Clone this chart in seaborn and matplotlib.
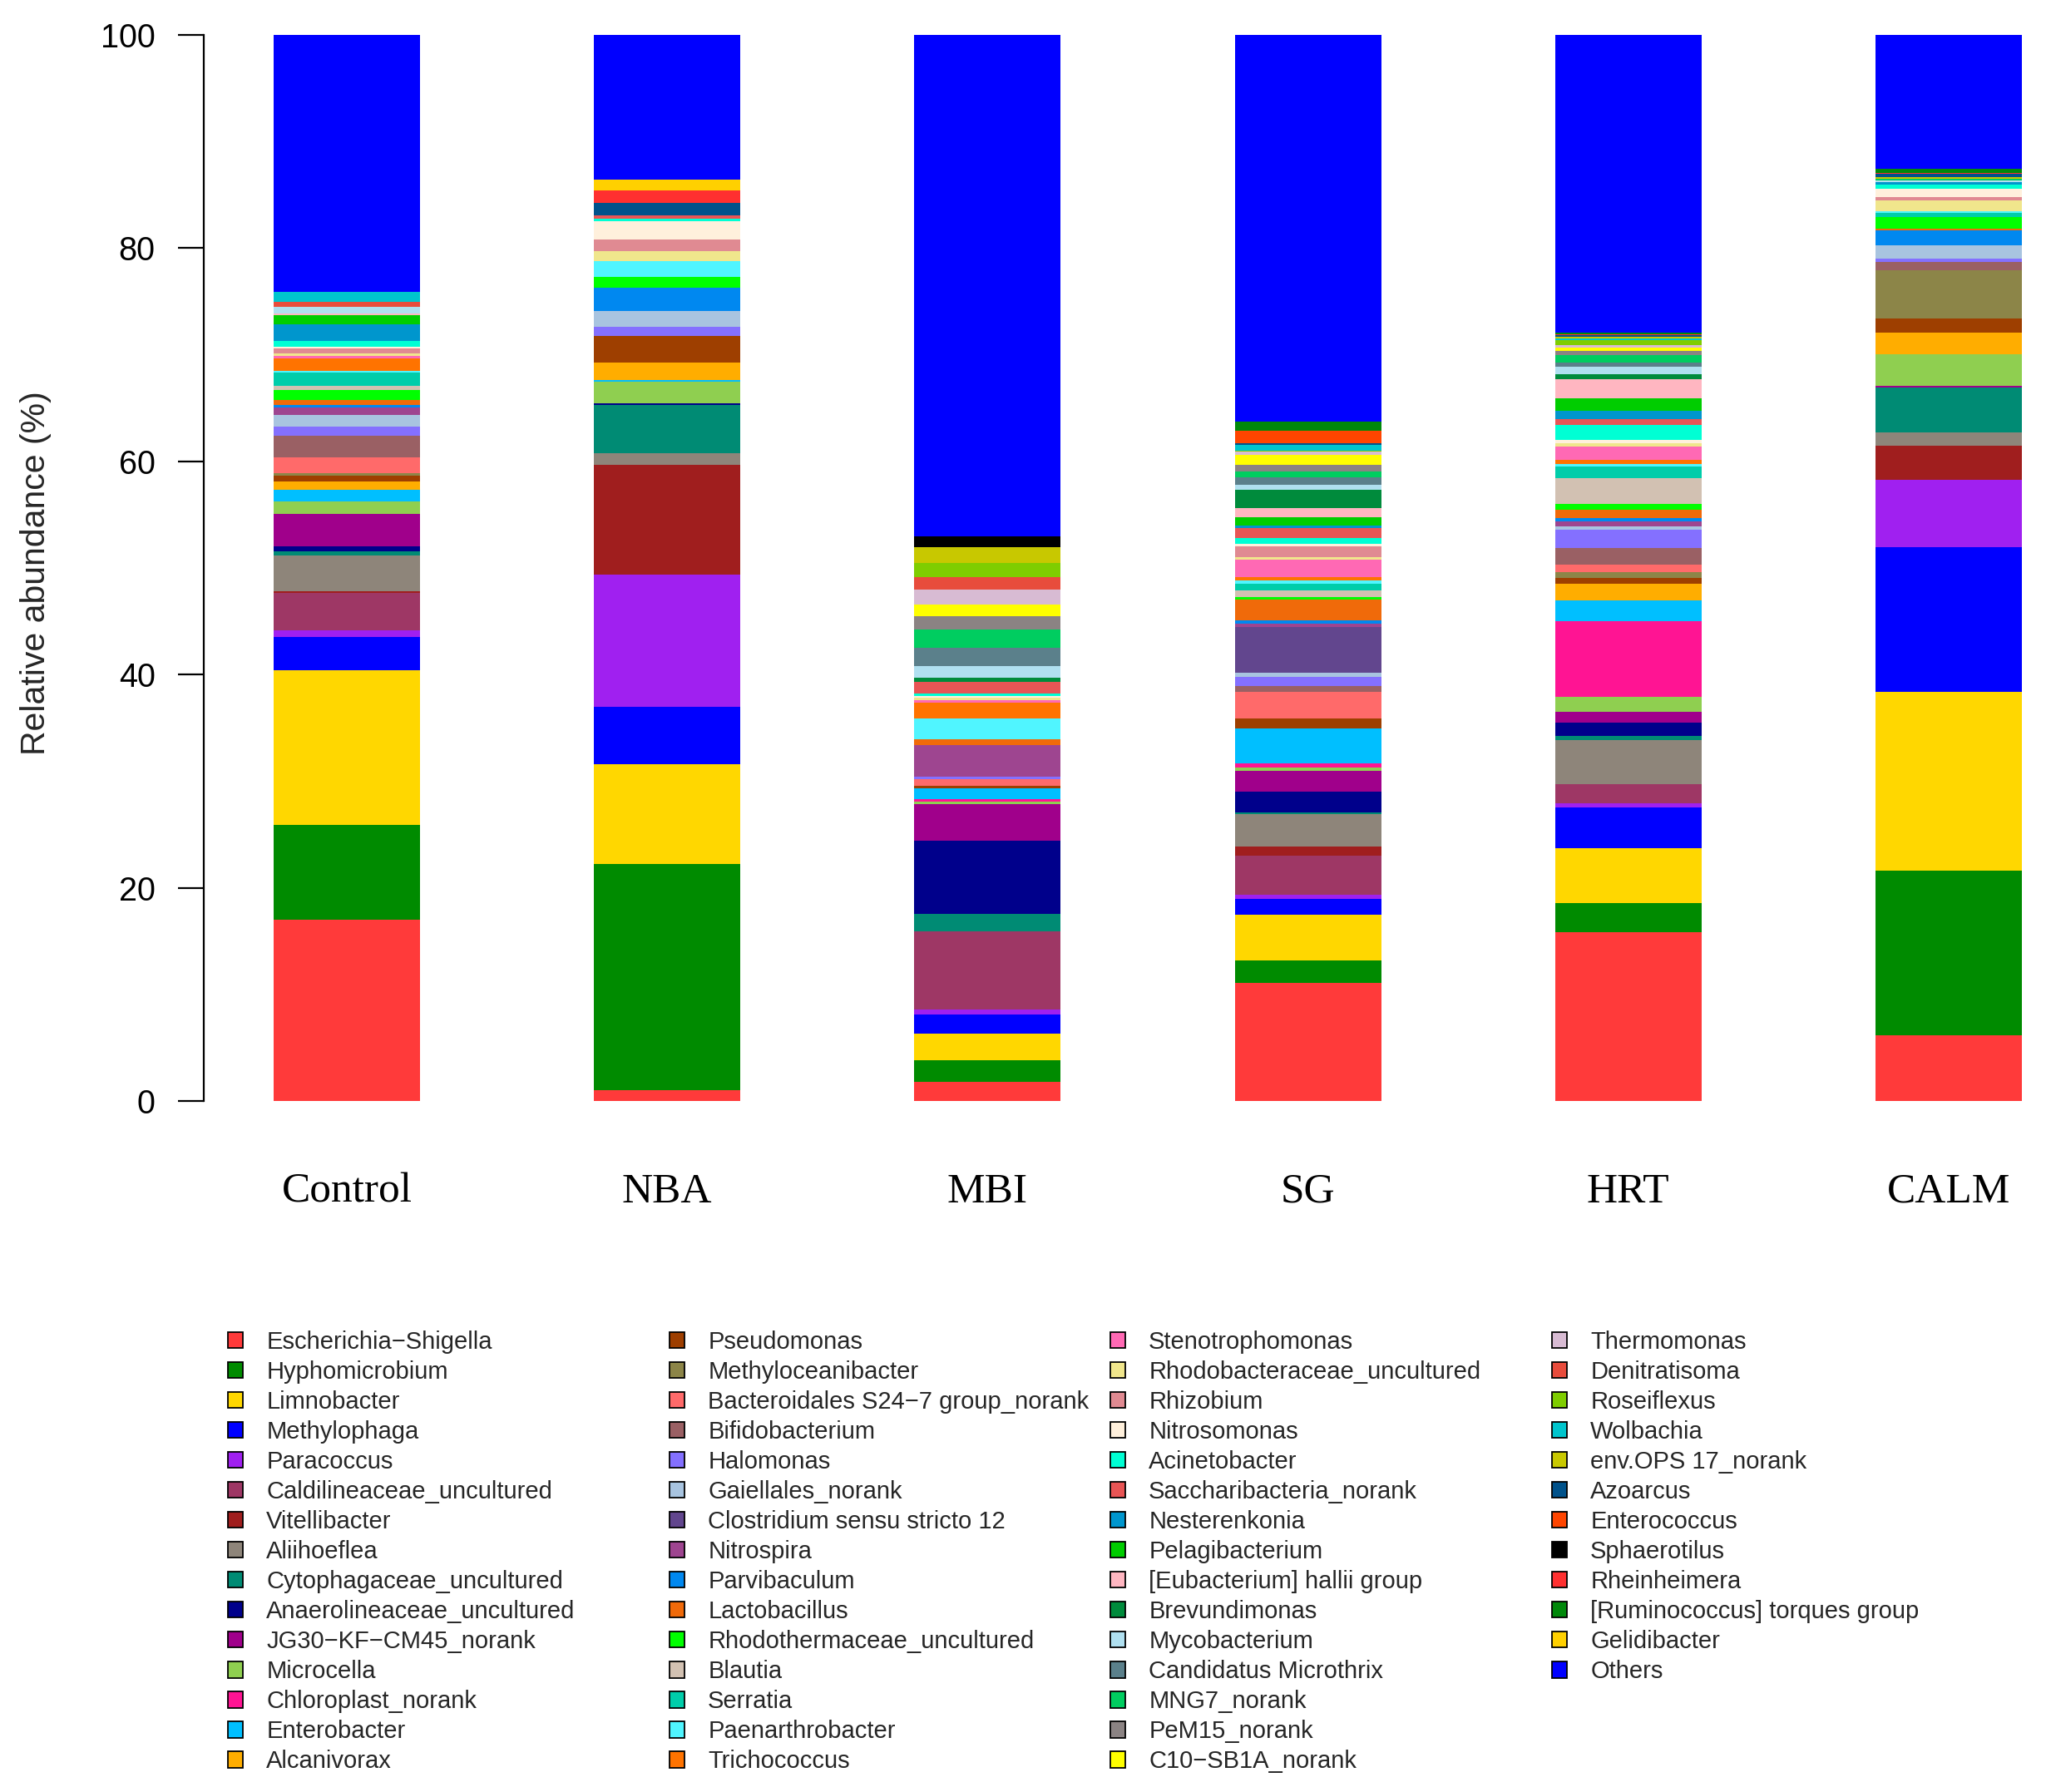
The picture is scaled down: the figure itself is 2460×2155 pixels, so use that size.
import matplotlib
matplotlib.use("Agg")
import matplotlib.pyplot as plt
from matplotlib.patches import Patch
import seaborn as sns
import pandas as pd

samples = ["Control", "NBA", "MBI", "SG", "HRT", "CALM"]

taxa = [
    "Escherichia\u2212Shigella", "Hyphomicrobium", "Limnobacter", "Methylophaga", "Paracoccus",
    "Caldilineaceae_uncultured", "Vitellibacter", "Aliihoeflea", "Cytophagaceae_uncultured",
    "Anaerolineaceae_uncultured", "JG30\u2212KF\u2212CM45_norank", "Microcella", "Chloroplast_norank",
    "Enterobacter", "Alcanivorax",
    "Pseudomonas", "Methyloceanibacter", "Bacteroidales S24\u22127 group_norank", "Bifidobacterium",
    "Halomonas", "Gaiellales_norank", "Clostridium sensu stricto 12", "Nitrospira", "Parvibaculum",
    "Lactobacillus", "Rhodothermaceae_uncultured", "Blautia", "Serratia", "Paenarthrobacter",
    "Trichococcus",
    "Stenotrophomonas", "Rhodobacteraceae_uncultured", "Rhizobium", "Nitrosomonas", "Acinetobacter",
    "Saccharibacteria_norank", "Nesterenkonia", "Pelagibacterium", "[Eubacterium] hallii group",
    "Brevundimonas", "Mycobacterium", "Candidatus Microthrix", "MNG7_norank", "PeM15_norank",
    "C10\u2212SB1A_norank",
    "Thermomonas", "Denitratisoma", "Roseiflexus", "Wolbachia", "env.OPS 17_norank", "Azoarcus",
    "Enterococcus", "Sphaerotilus", "Rheinheimera", "[Ruminococcus] torques group", "Gelidibacter",
    "Others",
]

colors = [
    "#FF3A3A", "#008B00", "#FFD700", "#0000FF", "#A020F0",
    "#9E3765", "#A01E1E", "#8E857A", "#008B74", "#00008B",
    "#A0008B", "#8FCF50", "#FF1493", "#00BFFF", "#FFAD00",
    "#9E3F00", "#8C8548", "#FF6A6A", "#9A6064", "#8470FF",
    "#A8C4E0", "#62468E", "#9E4590", "#0088F0", "#F06A0A",
    "#00FF00", "#D2C1B2", "#00CDAA", "#50F5FF", "#FF7300",
    "#FF69B4", "#F0E68C", "#E08A92", "#FFF0DC", "#00FFD4",
    "#E85555", "#0096CD", "#00CD00", "#FFB6C1", "#008B3C",
    "#B0E0F0", "#5B808B", "#00CD60", "#8B8383", "#FFFF00",
    "#D8BBD3", "#E84C3C", "#7FCD00", "#00C5CD", "#C8C800",
    "#00528B", "#FF4500", "#000000", "#FF3030", "#00880A",
    "#FFD000", "#0000FF",
]

# relative abundance (%) per sample, in legend order (bottom of stack first)
control = [17.0, 8.9, 14.5, 3.1, 0.65, 3.5, 0.2, 3.35, 0.39, 0.47, 3.04, 1.12, 0.0, 1.09, 0.83,
           0.52, 0.2, 1.48, 2.03, 0.86, 1.14, 0.0, 0.68, 0.26, 0.44, 0.96, 0.34, 1.3, 0.13, 1.17,
           0.25, 0.2, 0.5, 0.15, 0.57, 0.0, 1.56, 0.83, 0.15, 0.0, 0.65, 0.0, 0.0, 0.0, 0.0,
           0.0, 0.43, 0.0, 0.96, 0.0, 0.0, 0.0, 0.0, 0.0, 0.0, 0.0, 24.1]
nba = [1.0, 21.2, 9.4, 5.4, 12.4, 0.0, 10.3, 1.1, 4.45, 0.2, 0.0, 2.0, 0.0, 0.2, 1.6,
       2.55, 0.0, 0.0, 0.0, 0.85, 1.45, 0.0, 0.0, 2.2, 0.0, 1.0, 0.0, 0.0, 1.45, 0.0,
       0.0, 1.0, 1.1, 1.7, 0.2, 0.3, 0.0, 0.0, 0.0, 0.0, 0.0, 0.0, 0.0, 0.0, 0.0,
       0.0, 0.0, 0.0, 0.0, 0.0, 1.2, 0.0, 0.0, 1.2, 0.0, 1.0, 13.55]
mbi = [1.8, 2.0, 2.5, 1.8, 0.45, 7.4, 0.0, 0.0, 1.6, 6.9, 3.4, 0.25, 0.2, 1.0, 0.0,
       0.3, 0.0, 0.6, 0.0, 0.25, 0.0, 0.0, 2.95, 0.0, 0.5, 0.0, 0.0, 0.0, 2.0, 1.5,
       0.2, 0.2, 0.0, 0.2, 0.2, 1.1, 0.0, 0.0, 0.0, 0.4, 1.1, 1.75, 1.7, 1.25, 1.05,
       1.4, 1.2, 1.3, 0.0, 1.5, 0.0, 0.0, 1.0, 0.0, 0.0, 0.0, 47.05]
sg = [11.1, 2.1, 4.3, 1.45, 0.4, 3.65, 0.9, 3.0, 0.2, 1.9, 2.0, 0.25, 0.4, 3.32, 0.0,
      0.91, 0.0, 2.52, 0.52, 0.86, 0.36, 4.32, 0.31, 0.31, 1.95, 0.21, 0.65, 0.65, 0.26, 0.34,
      1.61, 0.26, 0.99, 0.26, 0.52, 0.96, 0.26, 0.78, 0.83, 1.69, 0.47, 0.73, 0.52, 0.62, 0.94,
      0.31, 0.0, 0.13, 0.52, 0.0, 0.13, 1.17, 0.0, 0.0, 0.91, 0.0, 36.25]
hrt = [15.85, 2.75, 5.1, 3.8, 0.45, 1.77, 0.0, 4.1, 0.45, 1.2, 1.0, 1.45, 7.06, 2.0, 1.56,
       0.52, 0.57, 0.65, 1.56, 1.72, 0.31, 0.0, 0.47, 0.31, 0.83, 0.52, 2.42, 1.12, 0.18, 0.39,
       1.3, 0.3, 0.0, 0.3, 1.43, 0.52, 0.78, 1.17, 1.82, 0.47, 0.7, 0.37, 0.68, 0.44, 0.3,
       0.2, 0.0, 0.45, 0.17, 0.2, 0.1, 0.0, 0.0, 0.12, 0.15, 0.0, 27.92]
calm = [6.15, 15.45, 16.8, 13.55, 6.35, 0.0, 3.2, 1.2, 4.2, 0.0, 0.2, 2.95, 0.0, 0.0, 2.03,
        1.3, 4.55, 0.0, 0.78, 0.31, 1.25, 0.0, 0.0, 1.43, 0.13, 1.12, 0.0, 0.34, 0.18, 0.0,
        0.0, 1.04, 0.26, 0.83, 0.34, 0.0, 0.26, 0.0, 0.0, 0.0, 0.13, 0.0, 0.18, 0.0, 0.0,
        0.0, 0.0, 0.0, 0.0, 0.18, 0.26, 0.0, 0.0, 0.13, 0.34, 0.0, 12.58]

values = {"Control": control, "NBA": nba, "MBI": mbi, "SG": sg, "HRT": hrt, "CALM": calm}

rows = []
for s in samples:
    for t, v in zip(taxa, values[s]):
        rows.append({"sample": s, "taxon": t, "value": v})
df = pd.DataFrame(rows)
df["sample"] = pd.Categorical(df["sample"], categories=samples, ordered=True)

sns.set_theme(style="white")
plt.rcParams["font.family"] = ["Liberation Sans", "DejaVu Sans"]

W, H = 2460, 2155
fig = plt.figure(figsize=(W / 100, H / 100), dpi=100)
ax_left, ax_bottom_px, ax_top_px = 245, 1324, 42
ax = fig.add_axes([ax_left / W, 1 - ax_bottom_px / H, (W - ax_left) / W, (ax_bottom_px - ax_top_px) / H])

palette = dict(zip(taxa, colors))
sns.histplot(data=df, x="sample", weights="value", hue="taxon", hue_order=taxa[::-1],
             palette=palette, multiple="stack", discrete=True, shrink=0.457,
             alpha=1, linewidth=0, legend=False, ax=ax)

ax.set_xlim(-0.4465, 5.304)
ax.set_ylim(0, 100)
for side in ["top", "right", "bottom"]:
    ax.spines[side].set_visible(False)
ax.spines["left"].set_linewidth(1.6)
ax.spines["left"].set_color("black")

ax.set_yticks([0, 20, 40, 60, 80, 100])
ax.set_yticklabels(["0", "20", "40", "60", "80", "100"])
ax.tick_params(axis="y", length=22, width=1.6, pad=20, labelsize=28.5, direction="out",
               left=True, colors="black")
ax.set_xticks(range(len(samples)))
ax.set_xticklabels(samples, fontfamily=["Liberation Serif", "DejaVu Serif"], fontsize=37)
ax.tick_params(axis="x", length=0, pad=62, colors="black")
ax.set_xlabel("")
ax.set_ylabel("Relative abundance (%)", fontsize=29.5, va="center")
ax.yaxis.set_label_coords((43 - ax_left) / (W - ax_left), 0.495)

# legend in four columns
fs = 21
col_left = [273.5, 804.5, 1334.5, 1865.5]
col_sizes = [15, 15, 15, 12]
top_px = 1599.5
start = 0
for cl, n in zip(col_left, col_sizes):
    handles = [Patch(facecolor=colors[i], edgecolor="black", linewidth=1.3)
               for i in range(start, start + n)]
    labels = taxa[start:start + n]
    fig.legend(handles, labels, loc="upper left", bbox_to_anchor=(cl / W, 1 - top_px / H),
               frameon=False, fontsize=fs, handlelength=0.65, handleheight=0.65,
               handletextpad=0.95, labelspacing=0.276, borderpad=0, borderaxespad=0)
    start += n

fig.savefig("out.png", dpi=100)
